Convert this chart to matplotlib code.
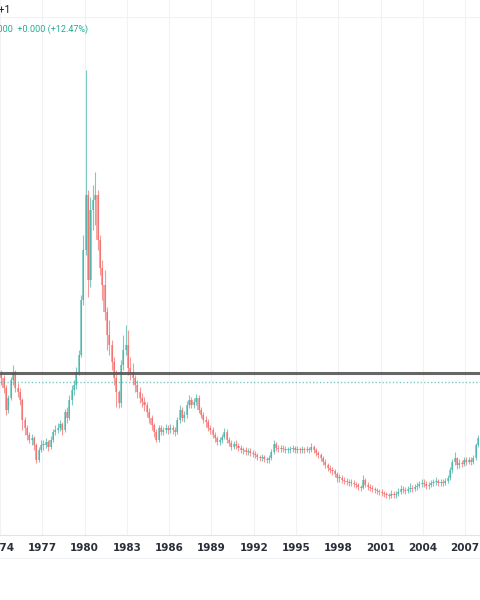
import matplotlib.pyplot as plt
import numpy as np

# two-month candles (index points), one row per year
years = list(range(1974, 2008))
closes_by_year = [
    [157, 147, 125, 137, 155, 163],   # 1974
    [147, 143, 135, 115, 107, 100],   # 1975
    [95, 97, 90, 75, 85, 90],         # 1976
    [90, 93, 88, 95, 103, 105],       # 1977
    [107, 111, 105, 123, 117, 135],   # 1978
    [145, 150, 163, 180, 235, 285],   # 1979
    [340, 255, 325, 335, 340, 295],   # 1980
    [267, 250, 223, 200, 190, 173],   # 1981
    [157, 143, 132, 170, 185, 190],   # 1982
    [167, 163, 157, 150, 143, 137],   # 1983
    [133, 130, 123, 117, 110, 103],   # 1984
    [95, 107, 103, 105, 107, 105],    # 1985
    [107, 105, 103, 115, 125, 117],   # 1986
    [120, 130, 135, 130, 133, 137],   # 1987
    [125, 120, 115, 113, 107, 105],   # 1988
    [100, 97, 93, 95, 98, 103],       # 1989
    [95, 92, 88, 91, 89, 87],         # 1990
    [85, 85, 83, 84, 82, 81],         # 1991
    [80, 78, 77, 78, 76, 75],         # 1992
    [77, 83, 91, 87, 86, 87],         # 1993
    [86, 85, 85, 86, 87, 85],         # 1994
    [86, 85, 86, 85, 86, 85],         # 1995
    [88, 85, 82, 80, 77, 73],         # 1996
    [70, 67, 65, 64, 61, 57],         # 1997
    [57, 55, 54, 53, 52, 52],         # 1998
    [51, 50, 48, 47, 55, 50],         # 1999
    [48, 47, 46, 45, 44, 43],         # 2000
    [42, 41, 40, 39, 41, 40],         # 2001
    [41, 43, 46, 45, 44, 46],         # 2002
    [47, 46, 48, 49, 51, 52],         # 2003
    [51, 49, 50, 52, 53, 54],         # 2004
    [52, 53, 52, 54, 57, 65],         # 2005
    [73, 77, 70, 72, 71, 75],         # 2006
    [73, 75, 73, 77, 90, 97],         # 2007
]
highs_by_year = [
    [165, 160, 150, 140, 158, 170],
    [165, 152, 147, 137, 118, 110],
    [103, 101, 99, 92, 88, 95],
    [95, 97, 95, 99, 106, 110],
    [112, 115, 113, 126, 128, 140],
    [150, 155, 168, 185, 240, 300],
    [465, 345, 338, 350, 363, 345],
    [300, 275, 265, 228, 215, 195],
    [178, 165, 145, 175, 200, 210],
    [205, 178, 172, 160, 155, 148],
    [142, 138, 133, 127, 120, 112],
    [106, 110, 110, 108, 111, 110],
    [111, 110, 108, 118, 130, 128],
    [124, 134, 140, 138, 137, 141],
    [140, 128, 123, 119, 116, 110],
    [108, 103, 99, 98, 101, 107],
    [106, 98, 95, 94, 95, 92],
    [90, 88, 88, 87, 87, 85],
    [84, 82, 80, 81, 80, 78],
    [80, 86, 95, 93, 90, 90],
    [90, 89, 88, 89, 90, 89],
    [89, 88, 89, 88, 89, 88],
    [92, 90, 87, 84, 82, 79],
    [76, 72, 70, 68, 66, 63],
    [61, 60, 58, 57, 56, 56],
    [55, 53, 52, 50, 60, 57],
    [53, 51, 50, 48, 47, 46],
    [46, 44, 43, 42, 45, 44],
    [44, 47, 50, 49, 48, 49],
    [52, 50, 51, 53, 54, 56],
    [56, 54, 53, 55, 56, 58],
    [56, 56, 56, 57, 60, 68],
    [76, 83, 78, 76, 75, 78],
    [78, 78, 78, 80, 92, 100],
]
lows_by_year = [
    [150, 142, 120, 122, 135, 150],
    [143, 138, 130, 105, 100, 95],
    [92, 90, 85, 72, 73, 83],
    [85, 87, 84, 86, 93, 100],
    [102, 104, 100, 103, 112, 115],
    [130, 140, 146, 160, 178, 230],
    [280, 238, 248, 305, 310, 285],
    [260, 235, 215, 185, 180, 165],
    [150, 128, 127, 128, 165, 180],
    [160, 155, 150, 143, 137, 132],
    [128, 124, 118, 112, 105, 98],
    [93, 93, 100, 100, 102, 101],
    [102, 101, 99, 101, 112, 114],
    [113, 117, 127, 127, 127, 130],
    [122, 117, 112, 108, 104, 101],
    [97, 93, 90, 90, 92, 96],
    [92, 89, 85, 86, 86, 84],
    [82, 81, 80, 80, 79, 78],
    [77, 75, 74, 74, 73, 72],
    [72, 75, 81, 84, 83, 83],
    [83, 82, 82, 82, 83, 82],
    [82, 82, 82, 82, 83, 82],
    [83, 82, 79, 77, 74, 70],
    [67, 64, 62, 60, 58, 53],
    [53, 52, 51, 50, 49, 49],
    [48, 47, 45, 44, 46, 48],
    [45, 44, 43, 42, 41, 40],
    [39, 38, 37, 36, 37, 37],
    [37, 39, 41, 42, 41, 42],
    [43, 43, 44, 45, 47, 48],
    [48, 46, 46, 48, 49, 50],
    [49, 49, 49, 50, 52, 55],
    [62, 70, 66, 67, 68, 69],
    [70, 71, 70, 71, 75, 88],
]
first_open = 160

resistance = 162
last_price = 153
tick_years = list(range(1974, 2008, 3))

up_col = '#26a69a'
down_col = '#ef5350'

# flatten into one candle series
times, closes, highs, lows = [], [], [], []
for y, c_row, h_row, l_row in zip(years, closes_by_year, highs_by_year, lows_by_year):
    for k in range(6):
        times.append(y + (2 * k + 1) / 12)
        closes.append(c_row[k])
        highs.append(h_row[k])
        lows.append(l_row[k])
times = np.array(times)
closes = np.array(closes, dtype=float)
highs = np.array(highs, dtype=float)
lows = np.array(lows, dtype=float)
opens = np.concatenate([[first_open], closes[:-1]])

fig = plt.figure(figsize=(4.8, 6), dpi=100)
ax = fig.add_axes([0, 65 / 600, 1, 535 / 600])

for t in tick_years:
    ax.axvline(t, color='#f0f2f6', lw=0.8, zorder=0)
ax.axhline(518, color='#f0f2f6', lw=0.8, zorder=0)

up = closes >= opens
colors = np.where(up, up_col, down_col)
bottoms = np.minimum(opens, closes)
heights = np.maximum(np.abs(closes - opens), 0.8)

ax.vlines(times, lows, highs, colors=colors, lw=0.8, alpha=0.6, zorder=2)
ax.bar(times, heights, bottom=bottoms, width=0.15, color=colors, alpha=0.5,
       linewidth=0, zorder=2)

ax.axhline(resistance, color='#555555', lw=2.2, alpha=0.9, zorder=3)
ax.axhline(last_price, color=up_col, lw=1, ls=(0, (1, 1.5)), alpha=0.6, zorder=3)

x0 = 1974 + 2.5 / 14.17
ax.set_xlim(x0, x0 + 480 / 14.17)
ax.set_ylim(0, 535)

ax.set_xticks(tick_years)
ax.set_xticklabels([str(t) for t in tick_years], fontsize=7.5, fontweight='bold',
                   color='#2a2e39')
ax.tick_params(axis='x', length=0, pad=6)
ax.set_yticks([])
for s in ['top', 'right', 'left']:
    ax.spines[s].set_visible(False)
ax.spines['bottom'].set_color('#e0e3eb')
ax.spines['bottom'].set_linewidth(0.8)

fig.add_artist(plt.Line2D([0, 1], [42 / 600, 42 / 600], color='#f0f2f6', lw=0.8))

fig.text(11 / 480, 1 - 10 / 600, 'UTC+1', ha='right', va='center', fontsize=7.5,
         family='Roboto', color='#131722')
fig.text(88 / 480, 1 - 29 / 600, '0.000  +0.000 (+12.47%)', ha='right', va='center',
         fontsize=6.5, family='Roboto', color='#22ab94')

fig.savefig('out.png', dpi=100)
